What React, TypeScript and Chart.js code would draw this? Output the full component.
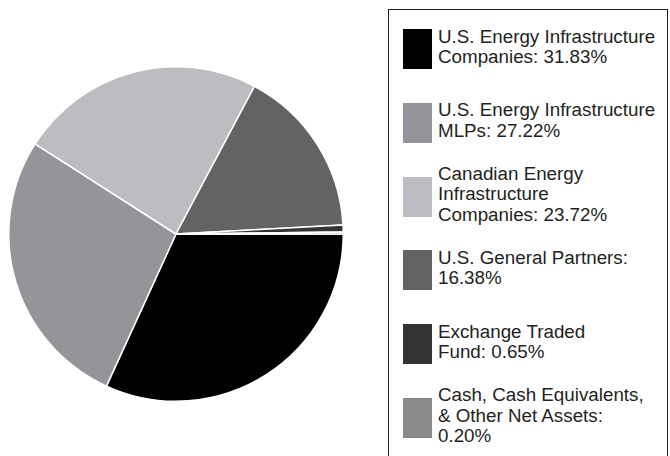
import React, { useEffect, useRef } from "react";
import { Chart, registerables } from "chart.js";

Chart.register(...registerables);

const categories = [
  "U.S. Energy Infrastructure Companies",
  "U.S. Energy Infrastructure MLPs",
  "Canadian Energy Infrastructure Companies",
  "U.S. General Partners",
  "Exchange Traded Fund",
  "Cash, Cash Equivalents, & Other Net Assets",
];

const values = [31.83, 27.22, 23.72, 16.38, 0.65, 0.2];

const colors = ["#000000", "#939598", "#bcbdc0", "#636363", "#333333", "#8a8a8a"];

// legend text as printed (with its line breaks)
const legendLabels = [
  "U.S. Energy Infrastructure\nCompanies: 31.83%",
  "U.S. Energy Infrastructure\nMLPs: 27.22%",
  "Canadian Energy\nInfrastructure\nCompanies: 23.72%",
  "U.S. General Partners:\n16.38%",
  "Exchange Traded\nFund: 0.65%",
  "Cash, Cash Equivalents,\n& Other Net Assets:\n0.20%",
];

const FONT = "'Liberation Sans', Arial, Helvetica, sans-serif";

export default function App() {
  const canvasRef = useRef<HTMLCanvasElement | null>(null);

  useEffect(() => {
    if (!canvasRef.current) return;
    const chart = new Chart(canvasRef.current, {
      type: "pie",
      data: {
        labels: categories,
        datasets: [
          {
            data: values,
            backgroundColor: colors,
            borderColor: "#ffffff",
            borderWidth: 1.5,
          },
        ],
      },
      options: {
        responsive: false,
        animation: false,
        rotation: 90,
        layout: { padding: 0 },
        plugins: {
          legend: { display: false },
          tooltip: { enabled: false },
          title: { display: false },
        },
      },
    });
    return () => chart.destroy();
  }, []);

  return (
    <div
      style={{
        position: "absolute",
        left: 0,
        top: 0,
        width: 670,
        height: 456,
        overflow: "hidden",
        background: "#ffffff",
        fontFamily: FONT,
      }}
    >
      <div style={{ position: "absolute", left: 8, top: 66, width: 336, height: 336 }}>
        <canvas ref={canvasRef} width={336} height={336} style={{ display: "block" }} />
      </div>
      <div
        style={{
          position: "absolute",
          left: 388,
          top: 9,
          width: 280,
          height: 470,
          border: "1px solid #231f20",
          boxSizing: "border-box",
        }}
      />
      {legendLabels.map((lab, i) => (
        <div
          key={i}
          style={{
            position: "absolute",
            left: 403,
            top: 29 + i * 73.8,
            height: 40,
            width: 265,
            display: "flex",
            alignItems: "center",
          }}
        >
          <div style={{ width: 29, height: 40, background: colors[i], flex: "0 0 auto" }} />
          <div
            style={{
              marginLeft: 6,
              whiteSpace: "pre",
              fontSize: 18.8,
              lineHeight: "20.5px",
              color: "#231f20",
              position: "relative",
              top: -2,
            }}
          >
            {lab}
          </div>
        </div>
      ))}
    </div>
  );
}
